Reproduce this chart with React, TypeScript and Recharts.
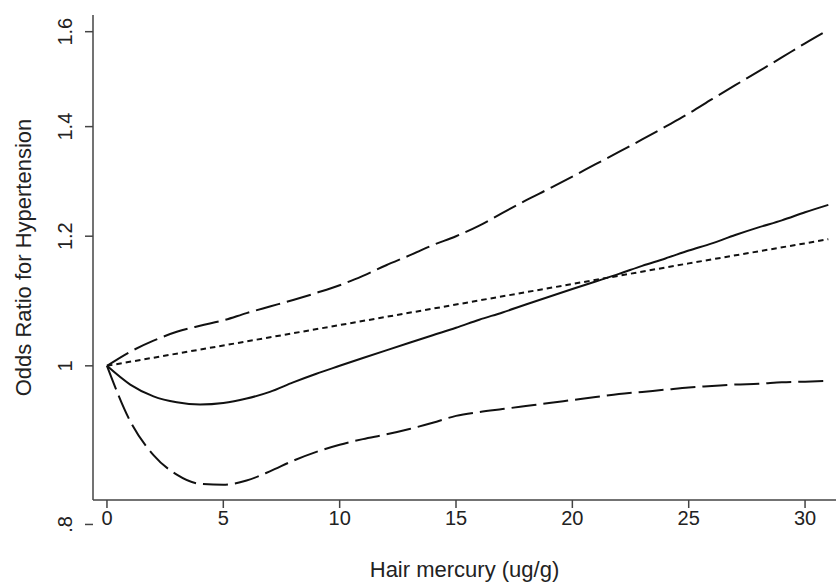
import { LineChart, Line, XAxis, YAxis } from 'recharts'

// hair mercury (ug/g), one point per unit
const MERCURY = [
  0, 1, 2, 3, 4, 5, 6, 7, 8, 9, 10, 11, 12, 13, 14, 15,
  16, 17, 18, 19, 20, 21, 22, 23, 24, 25, 26, 27, 28, 29, 30, 31,
]
// fitted odds ratio (solid)
const OR_FIT = [
  1.0, 0.974, 0.958, 0.95, 0.947, 0.949, 0.955, 0.964, 0.977, 0.989, 1.0, 1.011,
  1.022, 1.033, 1.044, 1.055, 1.067, 1.078, 1.09, 1.102, 1.114, 1.126, 1.138,
  1.151, 1.163, 1.176, 1.188, 1.202, 1.215, 1.227, 1.241, 1.254,
]
// upper 95% CI (long dash)
const OR_UPPER = [
  1.0, 1.02, 1.036, 1.049, 1.058, 1.066, 1.077, 1.087, 1.097, 1.108, 1.12, 1.135,
  1.152, 1.168, 1.185, 1.2, 1.218, 1.24, 1.262, 1.283, 1.305, 1.328, 1.351,
  1.375, 1.4, 1.426, 1.455, 1.484, 1.513, 1.543, 1.574, 1.604,
]
// lower 95% CI (long dash)
const OR_LOWER = [
  1.0, 0.925, 0.882, 0.858, 0.847, 0.846, 0.851, 0.862, 0.875, 0.886, 0.895, 0.902,
  0.908, 0.915, 0.923, 0.932, 0.937, 0.941, 0.945, 0.949, 0.953, 0.957, 0.961,
  0.964, 0.967, 0.97, 0.972, 0.974, 0.975, 0.977, 0.978, 0.979,
]
// linear model reference (short dash)
const LINEAR_X = [0, 5, 10, 15, 20, 25, 30, 31]
const LINEAR_OR = [1.0, 1.029, 1.059, 1.09, 1.122, 1.155, 1.188, 1.195]

const X_TICKS = [0, 5, 10, 15, 20, 25, 30]
const Y_TICKS = [0.8, 1, 1.2, 1.4, 1.6]

const splineData = MERCURY.map((x, i) => ({ x, fit: OR_FIT[i], upper: OR_UPPER[i], lower: OR_LOWER[i] }))
const linearData = LINEAR_X.map((x, i) => ({ x, linear: LINEAR_OR[i] }))

const FONT = '"Liberation Sans", Arial, sans-serif'
const INK = '#111'
const AXIS = '#444'

const fmtY = (v: number) => (v === 0.8 ? '.8' : String(v))

function YTick(props: any) {
  const { x, y, payload } = props
  return (
    <text
      x={x}
      y={y}
      transform={`rotate(-90 ${x} ${y})`}
      textAnchor="middle"
      fontSize={20}
      fontFamily={FONT}
      fill="#222"
    >
      {fmtY(payload.value)}
    </text>
  )
}

function YTitle(props: any) {
  const vb = props.viewBox
  const cx = vb.x + 31
  const cy = vb.y + vb.height / 2
  return (
    <text
      x={cx}
      y={cy}
      transform={`rotate(-90 ${cx} ${cy})`}
      textAnchor="middle"
      fontSize={22}
      fontFamily={FONT}
      fill="#222"
    >
      Odds Ratio for Hypertension
    </text>
  )
}

export default function App() {
  return (
    <div style={{ position: 'absolute', left: 0, top: 0, background: '#fff' }}>
      <LineChart width={836} height={582} margin={{ top: 15, right: 0, left: 0, bottom: 0 }}>
        <XAxis
          dataKey="x"
          type="number"
          domain={[-0.6, 31.33]}
          allowDataOverflow
          ticks={X_TICKS}
          interval={0}
          height={82}
          tickSize={8}
          tickMargin={3}
          stroke={AXIS}
          strokeWidth={1.5}
          tick={{ fontSize: 20, fontFamily: FONT, fill: '#222' }}
          label={{ value: 'Hair mercury (ug/g)', position: 'insideBottom', offset: 5, fontSize: 22, fontFamily: FONT, fill: '#222' }}
        />
        <YAxis
          type="number"
          scale="log"
          domain={[0.828, 1.638]}
          allowDataOverflow
          ticks={Y_TICKS}
          interval={0}
          width={93}
          tickSize={8}
          tickMargin={13}
          stroke={AXIS}
          strokeWidth={1.5}
          tick={<YTick />}
          label={{ content: <YTitle /> }}
        />
        <Line data={splineData} dataKey="upper" type="monotone" stroke={INK} strokeWidth={2} strokeDasharray="25 7" dot={false} isAnimationActive={false} />
        <Line data={splineData} dataKey="lower" type="monotone" stroke={INK} strokeWidth={2} strokeDasharray="25 7" dot={false} isAnimationActive={false} />
        <Line data={linearData} dataKey="linear" type="linear" stroke={INK} strokeWidth={2} strokeDasharray="5.5 4" dot={false} isAnimationActive={false} />
        <Line data={splineData} dataKey="fit" type="monotone" stroke={INK} strokeWidth={2} dot={false} isAnimationActive={false} />
      </LineChart>
    </div>
  )
}
